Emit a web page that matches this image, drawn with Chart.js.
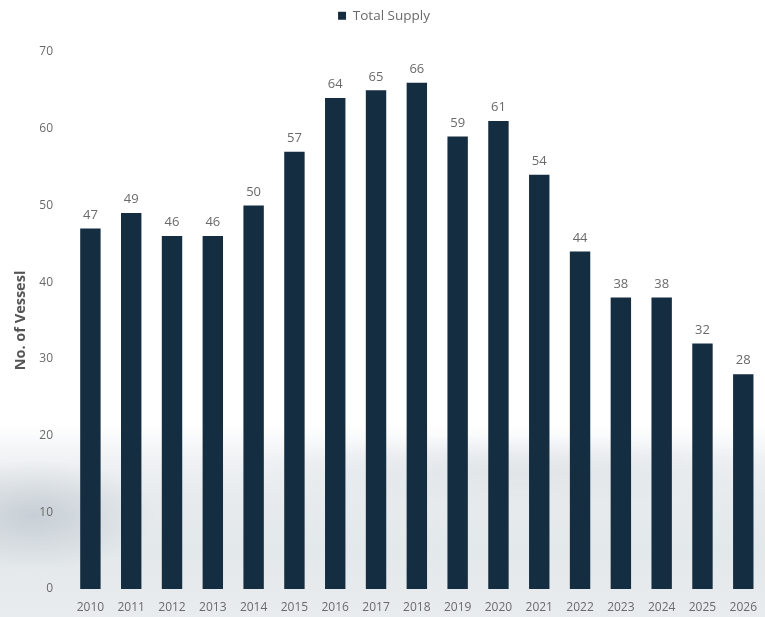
<!DOCTYPE html>
<html>
<head>
<meta charset="utf-8">
<script src="https://cdn.jsdelivr.net/npm/chart.js@4/dist/chart.umd.min.js"></script>
<style>
  html, body { margin: 0; padding: 0; overflow: hidden; width: 765px; height: 617px; }
  body {
    background:
      radial-gradient(ellipse 120px 55px at 35px 515px, rgba(170,180,189,0.5), rgba(170,180,189,0) 100%),
      radial-gradient(ellipse 280px 35px at 520px 470px, rgba(205,212,218,0.4), rgba(205,212,218,0) 100%),
      linear-gradient(to bottom, #ffffff 0px, #ffffff 425px, #f1f3f5 455px, #e7ebee 495px, #e3e8eb 550px, #e9ecef 617px);
  }
  #wrap { position: absolute; left: 0; top: 0; width: 768px; height: 617px; }
</style>
</head>
<body>
<div id="wrap"><canvas id="chart" width="768" height="617"></canvas></div>
<script>
// Annual vessel supply, 2010–2026
const years = ['2010','2011','2012','2013','2014','2015','2016','2017','2018',
               '2019','2020','2021','2022','2023','2024','2025','2026'];
const totalSupply = [47, 49, 46, 46, 50, 57, 64, 65, 66, 59, 61, 54, 44, 38, 38, 32, 28];
const yTicks = [0, 10, 20, 30, 40, 50, 60, 70];

const FONT = '"Open Sans", "Noto Sans", sans-serif';
const BAR = '#152d40';
const GREY = '#6a6a6a';

// Value labels above each bar, positioned from the bar elements
const valueLabels = {
  id: 'valueLabels',
  afterDatasetsDraw(chart) {
    const ctx = chart.ctx;
    const meta = chart.getDatasetMeta(0);
    ctx.save();
    ctx.font = '13px ' + FONT;
    ctx.fillStyle = GREY;
    ctx.textAlign = 'center';
    ctx.textBaseline = 'bottom';
    meta.data.forEach((bar, i) => {
      ctx.fillText(String(totalSupply[i]), bar.x, bar.y - 7);
    });
    ctx.restore();
  }
};

// Reserve a fixed band above the plot for the legend
const legendBand = {
  id: 'legendBand',
  afterInit(chart) {
    const lg = chart.legend;
    if (!lg) return;
    const fit = lg.fit.bind(lg);
    lg.fit = function () { fit(); this.height = 52; };
  }
};

new Chart(document.getElementById('chart'), {
  type: 'bar',
  data: {
    labels: years,
    datasets: [{
      label: 'Total Supply',
      data: totalSupply,
      backgroundColor: BAR,
      borderWidth: 0,
      barPercentage: 0.5,
      categoryPercentage: 1.0
    }]
  },
  options: {
    responsive: false,
    animation: false,
    layout: { padding: { top: 0, right: 0, bottom: 0, left: 0 } },
    plugins: {
      legend: {
        display: true,
        position: 'top',
        labels: {
          font: { family: FONT, size: 13.5 },
          color: GREY,
          boxWidth: 8,
          boxHeight: 8,
          padding: 9
        }
      },
      tooltip: { enabled: false }
    },
    scales: {
      x: {
        grid: { display: false, drawTicks: false },
        border: { display: false },
        ticks: {
          font: { family: FONT, size: 12 },
          color: GREY,
          padding: 11,
          maxRotation: 0,
          autoSkip: false
        },
        afterFit(scale) { scale.height = 28; }
      },
      y: {
        min: 0,
        max: 70,
        grid: { display: false, drawTicks: false },
        border: { display: false },
        afterBuildTicks(scale) { scale.ticks = yTicks.map(v => ({ value: v })); },
        ticks: {
          font: { family: FONT, size: 12 },
          color: GREY,
          padding: 17
        },
        title: {
          display: true,
          text: 'No. of Vessesl',
          font: { family: FONT, size: 14.5, weight: 'bold' },
          color: '#555555',
          padding: { top: 12, bottom: 0 }
        },
        afterFit(scale) { scale.width = 70; }
      }
    }
  },
  plugins: [valueLabels, legendBand]
});
</script>
</body>
</html>
